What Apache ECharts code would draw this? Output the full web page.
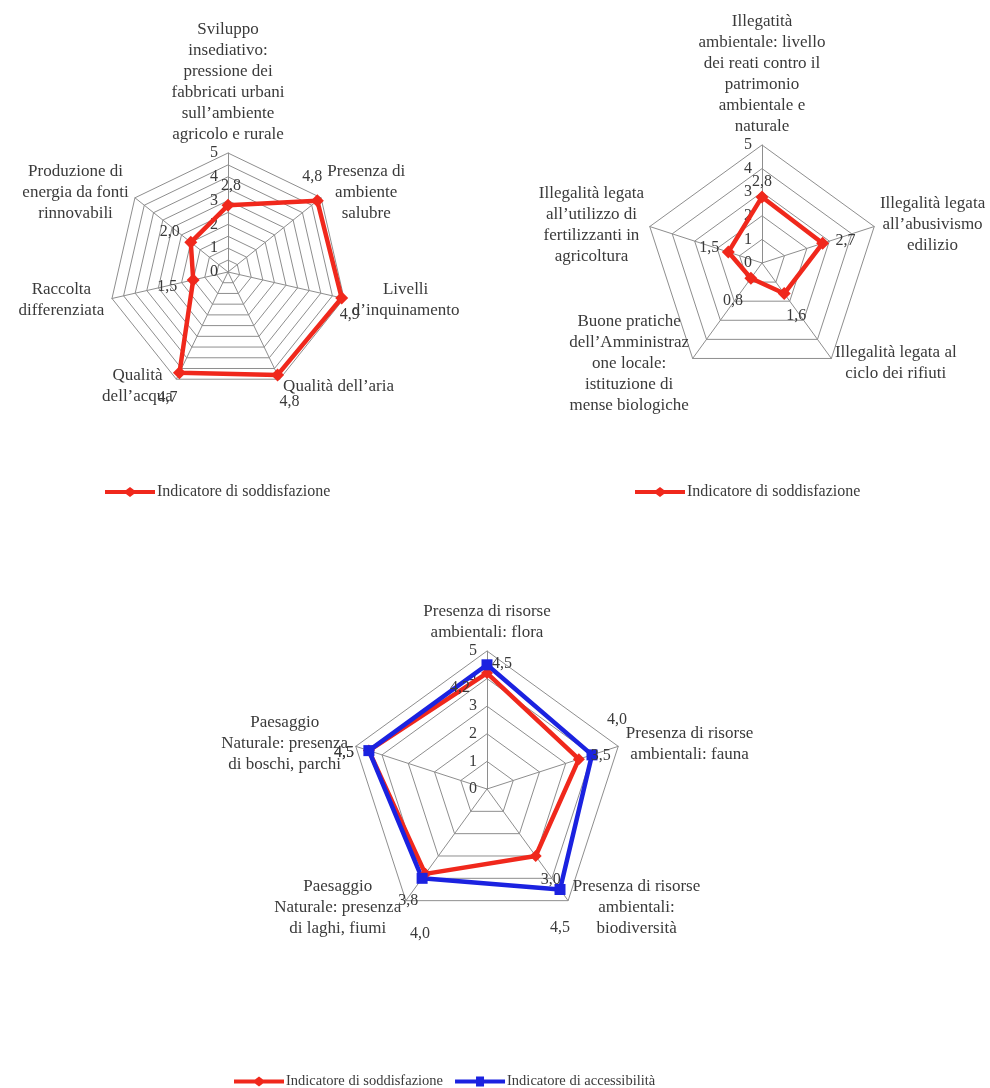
<!DOCTYPE html>
<html>
<head>
<meta charset="utf-8">
<title>Indicatori ambientali</title>
<script src="https://cdn.jsdelivr.net/npm/echarts@6/dist/echarts.min.js"></script>
<style>
  html, body { margin: 0; padding: 0; background: #fff; }
  #main { width: 990px; height: 1088px; }
</style>
</head>
<body>
<div id="main"></div>
<script>
// dati, assi in senso orario a partire da quello in alto
const assi1 = [
  'Sviluppo\ninsediativo:\npressione dei\nfabbricati urbani\nsull’ambiente\nagricolo e rurale',
  'Presenza di\nambiente\nsalubre',
  'Livelli\nd’inquinamento',
  'Qualità dell’aria',
  'Qualità\ndell’acqua',
  'Raccolta\ndifferenziata',
  'Produzione di\nenergia da fonti\nrinnovabili'
];
const soddisfazione1 = [2.8, 4.8, 4.9, 4.8, 4.7, 1.5, 2.0];

const assi2 = [
  'Illegatità\nambientale: livello\ndei reati contro il\npatrimonio\nambientale e\nnaturale',
  'Illegalità legata\nall’abusivismo\nedilizio',
  'Illegalità legata al\nciclo dei rifiuti',
  'Buone pratiche\ndell’Amministraz\none locale:\nistituzione di\nmense biologiche',
  'Illegalità legata\nall’utilizzo di\nfertilizzanti in\nagricoltura'
];
const soddisfazione2 = [2.8, 2.7, 1.6, 0.8, 1.5];

const assi3 = [
  'Presenza di risorse\nambientali: flora',
  'Presenza di risorse\nambientali: fauna',
  'Presenza di risorse\nambientali:\nbiodiversità',
  'Paesaggio\nNaturale: presenza\ndi laghi, fiumi',
  'Paesaggio\nNaturale: presenza\ndi boschi, parchi'
];
const soddisfazione3 = [4.2, 3.5, 3.0, 3.8, 4.5];
const accessibilita3 = [4.5, 4.0, 4.5, 4.0, 4.5];

const nomeSodd = 'Indicatore di soddisfazione';
const nomeAcc = 'Indicatore di accessibilità';
const scalaMin = 0;
const scalaMax = 5;

// spostamento [dx, dy] delle etichette dei valori rispetto al punto
const spost1 = [[3, -20], [-5, -24], [8, 17], [12, 27], [-12, 25], [-26, 7], [-21, -11]];
const spost2 = [[0, -15], [23, -3], [12, 22], [-18, 23], [-19, -4]];
const spost3s = [[-27, 15], [22, -3], [15, 24], [-17, 27], [-25, 2]];
const spost3a = [[15, -1], [25, -35], [0, 38], [-2, 55], [-25, 2]];

const FONT = '"Liberation Serif", "DejaVu Serif", serif';
const TESTO = '#3a3a3a';
const GRIGIO = '#8e8e8e';
const ROSSO = '#f0281c';
const BLU = '#1b22e0';

// echarts mette gli indicatori in senso antiorario: tengo il primo e inverto gli altri
const orario = arr => [arr[0]].concat(arr.slice(1).reverse());

const virgola = v => v.toFixed(1).replace('.', ',');

function indicatori(nomi, soloInteri) {
  return orario(nomi).map((n, i) => {
    const ind = { name: n, min: scalaMin, max: scalaMax };
    if (i === 0) {
      ind.axisLabel = {
        show: true,
        formatter: v => (soloInteri && v % 1 !== 0) ? '' : String(v)
      };
    }
    return ind;
  });
}

function radar(center, radius, nomi, split, nameGap) {
  return {
    center: center,
    radius: radius,
    startAngle: 90,
    splitNumber: split,
    shape: 'polygon',
    indicator: indicatori(nomi, split > 5),
    nameGap: nameGap,
    axisName: {
      color: TESTO,
      fontFamily: FONT,
      fontSize: 17,
      lineHeight: 21,
      formatter: n => n.split('\n').map(r => '{c|' + r + '}').join('\n'),
      rich: { c: { align: 'center', color: TESTO, fontFamily: FONT, fontSize: 17, lineHeight: 21 } }
    },
    axisLine: { lineStyle: { color: GRIGIO, width: 1 } },
    splitLine: { lineStyle: { color: GRIGIO, width: 1 } },
    splitArea: { show: false },
    axisTick: { show: false },
    axisLabel: {
      show: false,
      color: TESTO,
      fontFamily: FONT,
      fontSize: 16,
      margin: 10
    }
  };
}

function etichette(spost) {
  const rich = {};
  orario(spost).forEach(([dx, dy], i) => {
    rich['d' + i] = {
      color: TESTO,
      fontFamily: FONT,
      fontSize: 16,
      padding: [dy > 0 ? 2 * dy : 0, dx < 0 ? -2 * dx : 0, dy < 0 ? -2 * dy : 0, dx > 0 ? 2 * dx : 0]
    };
  });
  return {
    show: true,
    position: 'inside',
    color: TESTO,
    textBorderWidth: 0,
    fontFamily: FONT,
    fontSize: 16,
    formatter: p => '{d' + p.dimensionIndex + '|' + virgola(p.value) + '}',
    rich: rich
  };
}

function serie(radarIndex, nome, valori, colore, simbolo, size, spost) {
  return {
    type: 'radar',
    radarIndex: radarIndex,
    name: nome,
    symbol: simbolo,
    symbolSize: size,
    lineStyle: { color: colore, width: 4.5 },
    itemStyle: { color: colore },
    emphasis: { disabled: true },
    label: etichette(spost),
    data: [{ value: orario(valori), name: nome }]
  };
}

const iconaRossa = 'path://M0,3H21L25,0L29,3H50V7H29L25,10L21,7H0Z';
const iconaBlu = 'path://M0,3H21V0H29V3H50V7H29V10H21V7H0Z';

const legenda = (left, top, voci, fontSize, itemWidth, itemGap) => ({
  left: left,
  top: top,
  orient: 'horizontal',
  selectedMode: false,
  itemWidth: itemWidth,
  itemHeight: 10,
  itemGap: itemGap,
  textStyle: { color: TESTO, fontFamily: FONT, fontSize: fontSize, padding: [0, 0, 0, -3] },
  data: voci
});

const chart = echarts.init(document.getElementById('main'), null, { renderer: 'canvas' });

chart.setOption({
  backgroundColor: '#ffffff',
  animation: false,
  radar: [
    radar([228, 272], 119, assi1, 10, 8),
    radar([762, 263], 118, assi2, 5, 6),
    radar([487, 789], 138, assi3, 5, 8)
  ],
  legend: [
    legenda(100, 479, [{ name: nomeSodd, icon: iconaRossa }], 16, 50, 30),
    legenda(630, 479, [{ name: nomeSodd, icon: iconaRossa }], 16, 50, 30),
    legenda(229, 1069, [{ name: nomeSodd, icon: iconaRossa }, { name: nomeAcc, icon: iconaBlu }], 14.5, 50, 12)
  ],
  series: [
    serie(0, nomeSodd, soddisfazione1, ROSSO, 'diamond', 13, spost1),
    serie(1, nomeSodd, soddisfazione2, ROSSO, 'diamond', 13, spost2),
    serie(2, nomeSodd, soddisfazione3, ROSSO, 'diamond', 12, spost3s),
    serie(2, nomeAcc, accessibilita3, BLU, 'rect', 11, spost3a)
  ]
});
</script>
</body>
</html>
